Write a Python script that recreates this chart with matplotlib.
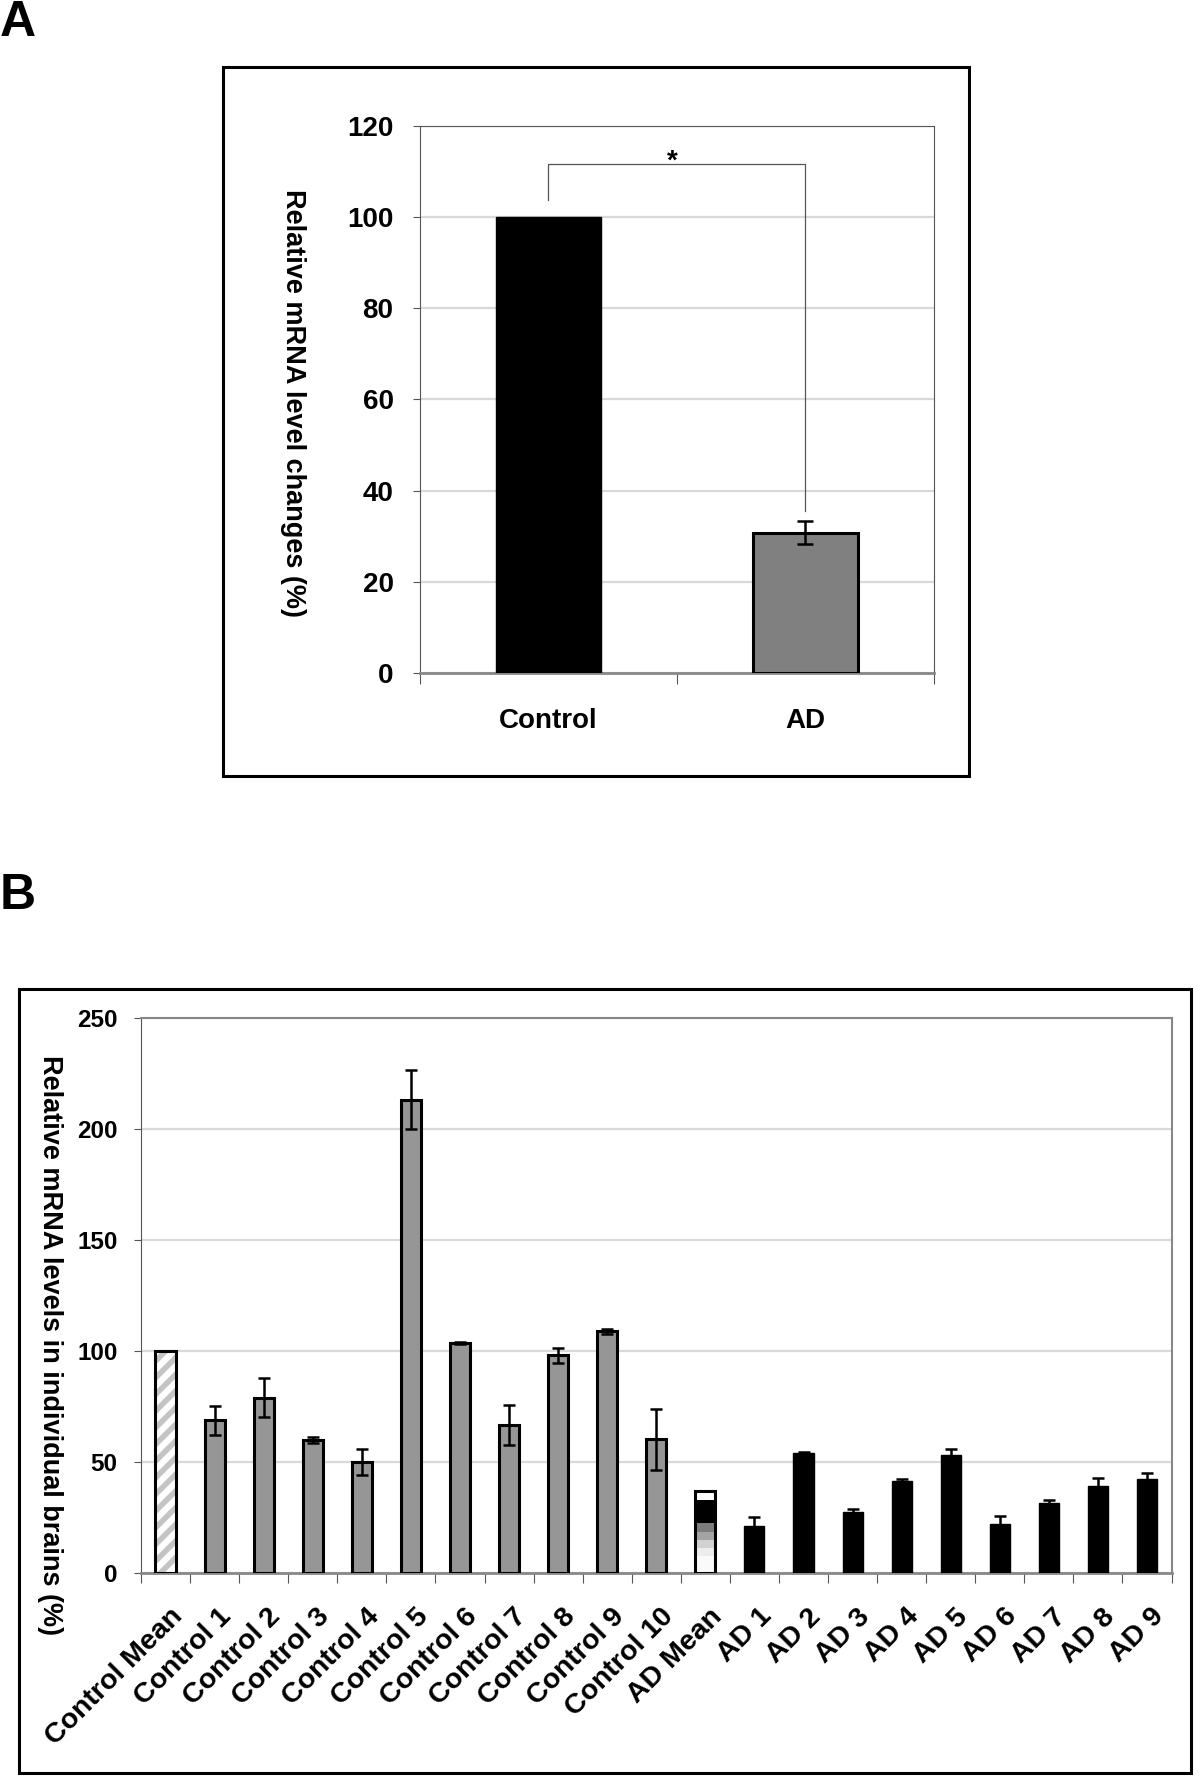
import numpy as np
import matplotlib
matplotlib.use("Agg")
import matplotlib.pyplot as plt
from matplotlib.patches import Rectangle

plt.rcParams['font.family'] = ['Liberation Sans', 'DejaVu Sans']
plt.rcParams['font.weight'] = 'bold'
plt.rcParams['hatch.linewidth'] = 4.0

# ---- panel A data
groups_a = ["Control", "AD"]
values_a = [100, 30.8]
errors_a = [0, 2.6]
bracket_a = [103.8, 111.6, 35.5]   # left foot, top, right foot

# ---- panel B data
labels_b = ["Control Mean", "Control 1", "Control 2", "Control 3", "Control 4",
            "Control 5", "Control 6", "Control 7", "Control 8", "Control 9",
            "Control 10", "AD Mean", "AD 1", "AD 2", "AD 3", "AD 4", "AD 5",
            "AD 6", "AD 7", "AD 8", "AD 9"]
values_b = [100, 68.7, 79.0, 60.0, 50.0, 213.3, 103.7, 66.5, 98.0, 108.8,
            60.3, 37.0, 21.1, 54.0, 27.6, 41.5, 53.0, 21.9, 31.7, 39.1, 42.5]
errors_b = [0, 6.5, 8.7, 1.3, 5.7, 13.2, 0.4, 9.0, 3.5, 1.0,
            13.7, 0, 4.3, 0.3, 1.2, 0.8, 2.7, 3.6, 1.2, 3.6, 2.4]
# AD Mean bar is drawn as a shaded stack, bounds from bottom to top
ad_mean_levels = [0, 7.5, 11.2, 14.9, 18.6, 22.4, 32.8, 37.0]
ad_mean_colors = ["#fafafa", "#ececec", "#d2d2d2", "#a4a4a4", "#7c7c7c", "black", "white"]

fig = plt.figure(figsize=(12, 17.77), dpi=100)

# ---------------- panel A ----------------
fig.patches.append(Rectangle((0.1858, 0.5633), 0.6217, 0.399, transform=fig.transFigure,
                             fill=False, edgecolor="black", lw=2.2, zorder=0))
fig.text(0.0, 1.0, "A", fontsize=36, fontweight="bold", ha="left", va="top")

ax = fig.add_axes([0.35, 0.6213, 0.4283, 0.3078])
xa = np.arange(len(groups_a)) + 0.5
ax.bar(xa[0], values_a[0], width=0.41, color="black", edgecolor="black", lw=1, zorder=3)
ax.bar(xa[1], values_a[1], width=0.41, color="#808080", edgecolor="black", lw=2.2, zorder=3)
ax.errorbar(xa[1], values_a[1], yerr=errors_a[1], fmt="none", ecolor="black",
            elinewidth=1.8, capsize=5.5, capthick=1.8, zorder=4)
ax.plot([xa[0], xa[0], xa[1], xa[1]],
        [bracket_a[0], bracket_a[1], bracket_a[1], bracket_a[2]],
        color="#555555", lw=0.9, zorder=2)
ax.text(1.0 - 0.02, bracket_a[1] + 0.6, "*", fontsize=20, fontweight="bold",
        ha="center", va="center")
ax.set_xlim(0, 2)
ax.set_ylim(0, 120)
ax.set_yticks(np.arange(0, 121, 20))
ax.yaxis.grid(True, color="#d9d9d9", lw=1.6)
ax.set_axisbelow(True)
ax.set_xticks([0, 1, 2])
ax.set_xticklabels([])
ax.set_xticks(xa, groups_a, minor=True)
ax.tick_params(axis="x", which="minor", length=0, pad=25, labelsize=20)
ax.tick_params(axis="x", which="major", length=8, width=0.8, color="#555555", direction="out")
ax.tick_params(axis="y", length=5, width=0.8, color="#555555", pad=14, labelsize=20)
for s in ["left", "top", "right"]:
    ax.spines[s].set_color("#555555")
    ax.spines[s].set_linewidth(0.8)
ax.spines["bottom"].set_color("#888888")
ax.spines["bottom"].set_linewidth(2.0)
fig.text(0.244, 0.773, "Relative mRNA level changes (%)", rotation=270,
         fontsize=19.5, fontweight="bold", ha="center", va="center")

# ---------------- panel B ----------------
fig.patches.append(Rectangle((0.0158, 0.0023), 0.977, 0.4412, transform=fig.transFigure,
                             fill=False, edgecolor="black", lw=2.2, zorder=0))
fig.text(0.0, 0.509, "B", fontsize=36, fontweight="bold", ha="left", va="top")

bx = fig.add_axes([0.1175, 0.1148, 0.8588, 0.3123])
xb = np.arange(len(labels_b)) + 0.5
w = 0.41
for i, (lab, v, e) in enumerate(zip(labels_b, values_b, errors_b)):
    if lab == "Control Mean":
        bx.bar(xb[i], v, width=w, color="white", edgecolor="#c4c4c4", hatch="//", lw=0, zorder=3)
        bx.bar(xb[i], v, width=w, fill=False, edgecolor="black", lw=2.2, zorder=4)
    elif lab == "AD Mean":
        for k in range(len(ad_mean_colors)):
            lo, hi = ad_mean_levels[k], ad_mean_levels[k + 1]
            bx.bar(xb[i], hi - lo, bottom=lo, width=w, color=ad_mean_colors[k], lw=0, zorder=3)
        bx.bar(xb[i], v, width=w, fill=False, edgecolor="black", lw=2.2, zorder=4)
    elif lab.startswith("Control"):
        bx.bar(xb[i], v, width=w, color="#969696", edgecolor="black", lw=2.2, zorder=3)
    else:
        bx.bar(xb[i], v, width=w, color="black", edgecolor="black", lw=1, zorder=3)
    if e > 0:
        bx.errorbar(xb[i], v, yerr=e, fmt="none", ecolor="black",
                    elinewidth=1.8, capsize=4.5, capthick=1.8, zorder=5)

bx.set_xlim(0, len(labels_b))
bx.set_ylim(0, 250)
bx.set_yticks(np.arange(0, 251, 50))
bx.yaxis.grid(True, color="#d9d9d9", lw=1.6)
bx.set_axisbelow(True)
bx.set_xticks(np.arange(len(labels_b) + 1))
bx.set_xticklabels([])
bx.set_xticks(xb + 0.08, labels_b, minor=True)
bx.tick_params(axis="x", which="minor", length=0, pad=22, labelsize=20.5)
for t in bx.get_xticklabels(minor=True):
    t.set_rotation(45)
    t.set_ha("right")
    t.set_va("top")
    t.set_rotation_mode("anchor")
bx.tick_params(axis="x", which="major", length=7, width=0.8, color="#555555", direction="out")
bx.tick_params(axis="y", length=5, width=0.8, color="#555555", pad=12, labelsize=17.5)
bx.spines["left"].set_color("#555555")
bx.spines["left"].set_linewidth(0.8)
for s in ["top", "right"]:
    bx.spines[s].set_color("#888888")
    bx.spines[s].set_linewidth(1.5)
bx.spines["bottom"].set_color("#888888")
bx.spines["bottom"].set_linewidth(2.0)
fig.text(0.042, 0.2431, "Relative mRNA levels in individual brains (%)", rotation=270,
         fontsize=19.5, fontweight="bold", ha="center", va="center")

fig.savefig("out.png", dpi=100)
